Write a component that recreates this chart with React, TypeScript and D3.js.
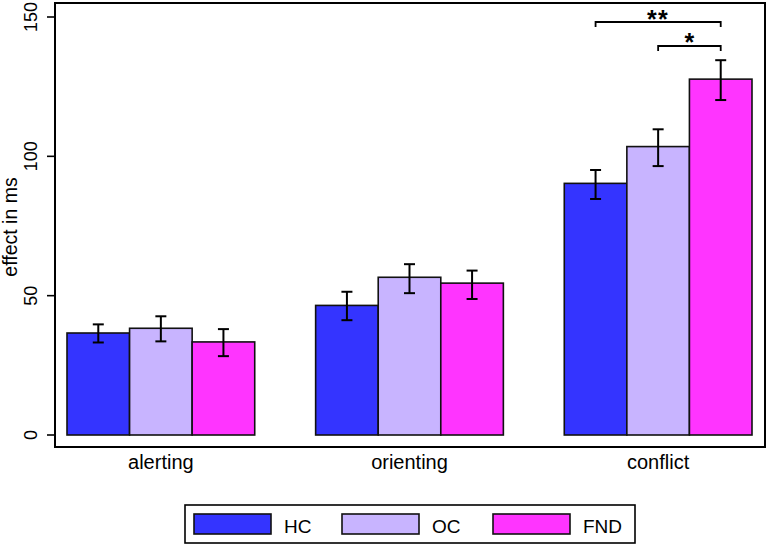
import * as d3 from "d3";

const categories = ["alerting", "orienting", "conflict"];
const groups = ["HC", "OC", "FND"];
const colors = ["#3434FF", "#C8B4FF", "#FF34FF"];

// mean effect per group, one value per category
const hcMeans = [36.6, 46.5, 90.3];
const ocMeans = [38.3, 56.6, 103.5];
const fndMeans = [33.4, 54.5, 127.7];

// error bar [low, high] per category
const hcErr = [[33.2, 39.7], [41.2, 51.4], [84.7, 95.1]];
const ocErr = [[33.6, 42.6], [50.9, 61.3], [96.5, 109.7]];
const fndErr = [[28.3, 38.0], [48.8, 59.0], [120.2, 134.5]];

const yTicks = [0, 50, 100, 150];

// significance brackets in the conflict group
const brackets = [
  { category: "conflict", from: "HC", to: "FND", level: 148.2, label: "**" },
  { category: "conflict", from: "OC", to: "FND", level: 139.6, label: "*" },
];

const font = "'Liberation Sans', Arial, Helvetica, sans-serif";

export default function App() {
  const width = 768;
  const height = 546;
  const frame = { left: 55, right: 765, top: 3, bottom: 447 };

  const means = [hcMeans, ocMeans, fndMeans];
  const errs = [hcErr, ocErr, fndErr];

  const x0 = d3.scaleBand().domain(categories).range([67, 752]).paddingInner(0.245).paddingOuter(0);
  const x1 = d3.scaleBand().domain(groups).range([0, x0.bandwidth()]).padding(0);
  const y = d3.scaleLinear().domain([0, 150]).range([435, 17]);

  const bars = categories.flatMap((c, ci) =>
    groups.map((g, gi) => ({
      c,
      g,
      gi,
      value: means[gi][ci],
      lo: errs[gi][ci][0],
      hi: errs[gi][ci][1],
    }))
  );

  const center = (c: string, g: string) => x0(c)! + x1(g)! + x1.bandwidth() / 2;

  // legend layout
  const legend = { left: 185, top: 505, right: 635, bottom: 543 };
  const keyX = [194, 342, 493];

  return (
    <div style={{ position: "absolute", left: 0, top: 0 }}>
      <svg width={width} height={height} style={{ display: "block", fontFamily: font }}>
        <rect width={width} height={height} fill="#fff" />

        {/* bars */}
        {bars.map((d) => (
          <rect
            key={`${d.c}-${d.g}`}
            x={x0(d.c)! + x1(d.g)!}
            y={y(d.value)}
            width={x1.bandwidth()}
            height={y(0) - y(d.value)}
            fill={colors[d.gi]}
            stroke="#111"
            strokeWidth={1.6}
          />
        ))}

        {/* error bars */}
        {bars.map((d) => {
          const cx = center(d.c, d.g);
          return (
            <g key={`err-${d.c}-${d.g}`} stroke="#000" strokeWidth={2}>
              <line x1={cx} x2={cx} y1={y(d.hi)} y2={y(d.lo)} />
              <line x1={cx - 5.5} x2={cx + 5.5} y1={y(d.hi)} y2={y(d.hi)} />
              <line x1={cx - 5.5} x2={cx + 5.5} y1={y(d.lo)} y2={y(d.lo)} />
            </g>
          );
        })}

        {/* significance brackets */}
        {brackets.map((b) => {
          const xa = center(b.category, b.from);
          const xb = center(b.category, b.to);
          const yy = y(b.level);
          return (
            <g key={b.label}>
              <path
                d={`M${xa},${yy + 5}V${yy}H${xb}V${yy + 5}`}
                fill="none"
                stroke="#000"
                strokeWidth={1.8}
              />
              <text
                x={(xa + xb) / 2}
                y={yy + 5.5}
                textAnchor="middle"
                fontSize={25}
                fontWeight="bold"
                letterSpacing={b.label.length > 1 ? 1.5 : 0}
              >
                {b.label}
              </text>
            </g>
          );
        })}

        {/* plot frame */}
        <rect
          x={frame.left}
          y={frame.top}
          width={frame.right - frame.left}
          height={frame.bottom - frame.top}
          fill="none"
          stroke="#000"
          strokeWidth={2}
        />

        {/* y axis ticks */}
        {yTicks.map((t) => (
          <g key={t}>
            <line x1={47} x2={frame.left} y1={y(t)} y2={y(t)} stroke="#000" strokeWidth={1.6} />
            <text
              transform={`translate(37,${y(t)}) rotate(-90)`}
              textAnchor="middle"
              fontSize={18}
              fill="#000"
            >
              {t}
            </text>
          </g>
        ))}

        <text
          transform={`translate(17,${(y(0) + y(150)) / 2 + 1}) rotate(-90)`}
          textAnchor="middle"
          fontSize={19.5}
          fill="#000"
        >
          effect in ms
        </text>

        {/* category labels */}
        {categories.map((c) => (
          <text key={c} x={x0(c)! + x0.bandwidth() / 2} y={469} textAnchor="middle" fontSize={20} fill="#000">
            {c}
          </text>
        ))}

        {/* legend */}
        <rect
          x={legend.left}
          y={legend.top}
          width={legend.right - legend.left}
          height={legend.bottom - legend.top}
          fill="#fff"
          stroke="#000"
          strokeWidth={1.6}
        />
        {groups.map((g, i) => (
          <g key={g}>
            <rect x={keyX[i]} y={514} width={77} height={20} fill={colors[i]} stroke="#111" strokeWidth={1.6} />
            <text x={keyX[i] + 90} y={533} fontSize={19} fill="#000">
              {g}
            </text>
          </g>
        ))}
      </svg>
    </div>
  );
}
